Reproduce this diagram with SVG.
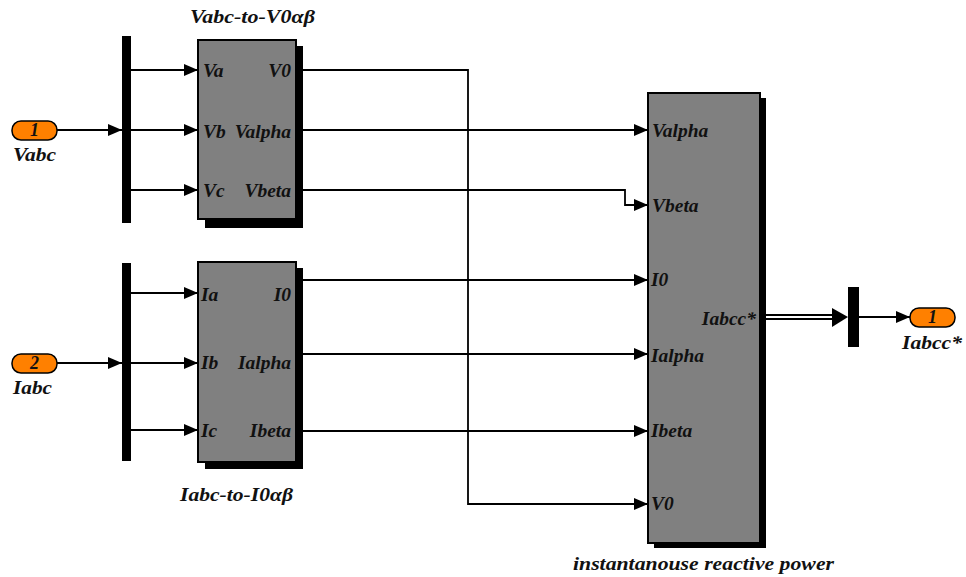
<svg xmlns="http://www.w3.org/2000/svg" width="966" height="577" viewBox="0 0 966 577">
  <style>
    .lbl { font-family: "Liberation Serif", "Times New Roman", serif; font-weight: bold; font-style: italic; font-size: 19.5px; fill: #111; }
    .num { font-family: "Liberation Serif", "Times New Roman", serif; font-weight: bold; font-style: italic; font-size: 18px; fill: #111; }
    .ttl { font-family: "Liberation Serif", "Times New Roman", serif; font-weight: bold; font-style: italic; font-size: 19px; fill: #111; }
    .blk { fill: #808080; stroke: #000; stroke-width: 2; }
    .shd { fill: #000; }
    .bar { fill: #000; }
    .port { fill: #FF8000; stroke: #000; stroke-width: 1.5; }
    .wire { fill: none; stroke: #000; stroke-width: 1.8; marker-end: url(#arrow); }
  </style>
  <defs>
    <marker id="arrow" markerUnits="userSpaceOnUse" markerWidth="14" markerHeight="12" refX="14" refY="6" orient="auto">
      <path d="M0,0 L14,6 L0,12 z" fill="#000"/>
    </marker>
  </defs>
  <rect width="966" height="577" fill="#fff"/>

  <!-- connectors -->
  <g id="connectors">
    <path class="wire" d="M57,130 H122"/>
    <path class="wire" d="M131,70 H198"/>
    <path class="wire" d="M131,130 H198"/>
    <path class="wire" d="M131,190 H198"/>
    <path class="wire" d="M57,363 H122"/>
    <path class="wire" d="M131,293 H198"/>
    <path class="wire" d="M131,363 H198"/>
    <path class="wire" d="M131,430 H198"/>
    <path class="wire" d="M303,70 H468 V504 H648"/>
    <path class="wire" d="M303,130 H648"/>
    <path class="wire" d="M303,190 H625 V205 H648"/>
    <path class="wire" d="M303,280 H648"/>
    <path class="wire" d="M303,354 H648"/>
    <path class="wire" d="M303,431 H648"/>
    <!-- bus line -->
    <path d="M766,317 H834" fill="none" stroke="#000" stroke-width="6"/>
    <path d="M766,317 H834" fill="none" stroke="#fff" stroke-width="2"/>
    <path d="M832,308 L848,317 L832,327 z" fill="#000"/>
    <path class="wire" d="M859,317 H910"/>
  </g>

  <!-- input 1 -->
  <g id="in1">
    <rect class="port" x="12" y="121" width="45" height="19" rx="9"/>
    <text class="num" x="34.5" y="136" text-anchor="middle">1</text>
    <text class="lbl" x="13" y="161" textLength="43" lengthAdjust="spacingAndGlyphs">Vabc</text>
  </g>

  <!-- input 2 -->
  <g id="in2">
    <rect class="port" x="12" y="354" width="45" height="19" rx="9"/>
    <text class="num" x="34.5" y="369" text-anchor="middle">2</text>
    <text class="lbl" x="13" y="394" textLength="39" lengthAdjust="spacingAndGlyphs">Iabc</text>
  </g>

  <!-- demux bars -->
  <g id="demux1"><rect class="bar" x="122" y="36" width="9" height="187"/></g>
  <g id="demux2"><rect class="bar" x="122" y="263" width="9" height="198"/></g>

  <!-- Vabc to V0 alpha beta -->
  <g id="vabc2v0ab">
    <rect class="shd" x="205" y="46" width="98" height="182"/>
    <rect class="blk" x="198" y="40" width="98" height="179"/>
    <text class="ttl" x="190" y="23" textLength="125" lengthAdjust="spacingAndGlyphs">Vabc-to-V0αβ</text>
    <text class="lbl" x="203" y="77">Va</text>
    <text class="lbl" x="203" y="138">Vb</text>
    <text class="lbl" x="203" y="197">Vc</text>
    <text class="lbl" x="291" y="77" text-anchor="end">V0</text>
    <text class="lbl" x="291" y="138" text-anchor="end">Valpha</text>
    <text class="lbl" x="291" y="197" text-anchor="end">Vbeta</text>
  </g>

  <!-- Iabc to I0 alpha beta -->
  <g id="iabc2i0ab">
    <rect class="shd" x="205" y="268" width="98" height="201"/>
    <rect class="blk" x="198" y="262" width="98" height="200"/>
    <text class="ttl" x="180" y="501" textLength="113" lengthAdjust="spacingAndGlyphs">Iabc-to-I0αβ</text>
    <text class="lbl" x="201" y="301">Ia</text>
    <text class="lbl" x="201" y="369">Ib</text>
    <text class="lbl" x="201" y="437">Ic</text>
    <text class="lbl" x="291" y="301" text-anchor="end">I0</text>
    <text class="lbl" x="291" y="369" text-anchor="end">Ialpha</text>
    <text class="lbl" x="291" y="437" text-anchor="end">Ibeta</text>
  </g>

  <!-- instantaneous reactive power block -->
  <g id="irp">
    <rect class="shd" x="654" y="98" width="112" height="450"/>
    <rect class="blk" x="648" y="93" width="112" height="450"/>
    <text class="lbl" x="652" y="137">Valpha</text>
    <text class="lbl" x="652" y="212">Vbeta</text>
    <text class="lbl" x="651" y="286">I0</text>
    <text class="lbl" x="651" y="362">Ialpha</text>
    <text class="lbl" x="651" y="437">Ibeta</text>
    <text class="lbl" x="651" y="510">V0</text>
    <text class="lbl" x="756" y="325" text-anchor="end">Iabcc*</text>
    <text class="ttl" x="573" y="570" textLength="261" lengthAdjust="spacingAndGlyphs">instantanouse reactive power</text>
  </g>

  <!-- mux bar -->
  <g id="mux"><rect class="bar" x="848" y="287" width="11" height="60"/></g>

  <!-- output 1 -->
  <g id="out1">
    <rect class="port" x="910" y="308" width="45" height="19" rx="9"/>
    <text class="num" x="932.5" y="323" text-anchor="middle">1</text>
    <text class="lbl" x="902" y="349" textLength="60" lengthAdjust="spacingAndGlyphs">Iabcc*</text>
  </g>
</svg>
